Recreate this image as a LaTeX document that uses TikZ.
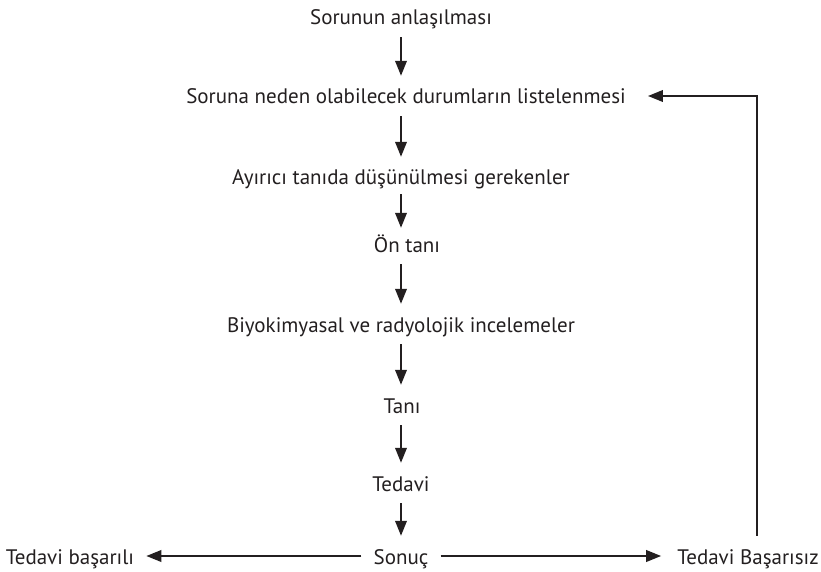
\documentclass[tikz,border=0pt]{standalone}
\usepackage{fontspec}
\setmainfont{PT Sans}
\usetikzlibrary{arrows.meta,calc}
\definecolor{ink}{HTML}{231F20}
\begin{document}
\begin{tikzpicture}[x=1pt,y=-1pt,
  lbl/.style={anchor=base,inner xsep=12pt,inner ysep=8pt,text height=20pt,text depth=4pt,
    font=\fontsize{21}{25}\selectfont,text=ink},
  arr/.style={draw=ink,line width=2.1pt,-{Triangle[length=15pt,width=11.5pt]}},
  ln/.style={draw=ink,line width=2.1pt}]
\useasboundingbox (0,0) rectangle (821,572);
\node[lbl] (n1) at (401,25) {Sorunun anlaşılması};
\node[lbl] (n2) at (406,104) {Soruna neden olabilecek durumların listelenmesi};
\node[lbl] (n3) at (401,185) {Ayırıcı tanıda düşünülmesi gerekenler};
\node[lbl] (n4) at (407,252) {Ön tanı};
\node[lbl] (n5) at (401,332) {Biyokimyasal ve radyolojik incelemeler};
\node[lbl] (n6) at (402,413) {Tanı};
\node[lbl] (n7) at (401,491) {Tedavi};
\node[lbl] (n8) at (401,564) {Sonuç};
\node[lbl] (tb) at (70,564) {Tedavi başarılı};
\node[lbl] (tf) at (748,564) {Tedavi Başarısız};
\coordinate (corner) at (757,96);
\draw[arr] (n1.south -| 401,0) -- (n2.north -| 401,0);
\draw[arr] (n2.south -| 401,0) -- (n3.north -| 401,0);
\draw[arr,shorten >=-4pt,shorten <=-3pt] (n3.south -| 401,0) -- (n4.north -| 401,0);
\draw[arr] (n4.south -| 401,0) -- (n5.north -| 401,0);
\draw[arr] (n5.south -| 401,0) -- (n6.north -| 401,0);
\draw[arr] (n6.south -| 401,0) -- (n7.north -| 401,0);
\draw[arr] (n7.south -| 401,0) -- (n8.north -| 401,0);
\draw[arr] (n8.west) -- (tb.east);
\draw[arr,shorten >=4pt] (n8.east) -- (tf.west);
\draw[arr,shorten >=10pt] (tf.north -| corner) -- (corner) -- (n2.east);
\end{tikzpicture}
\end{document}
